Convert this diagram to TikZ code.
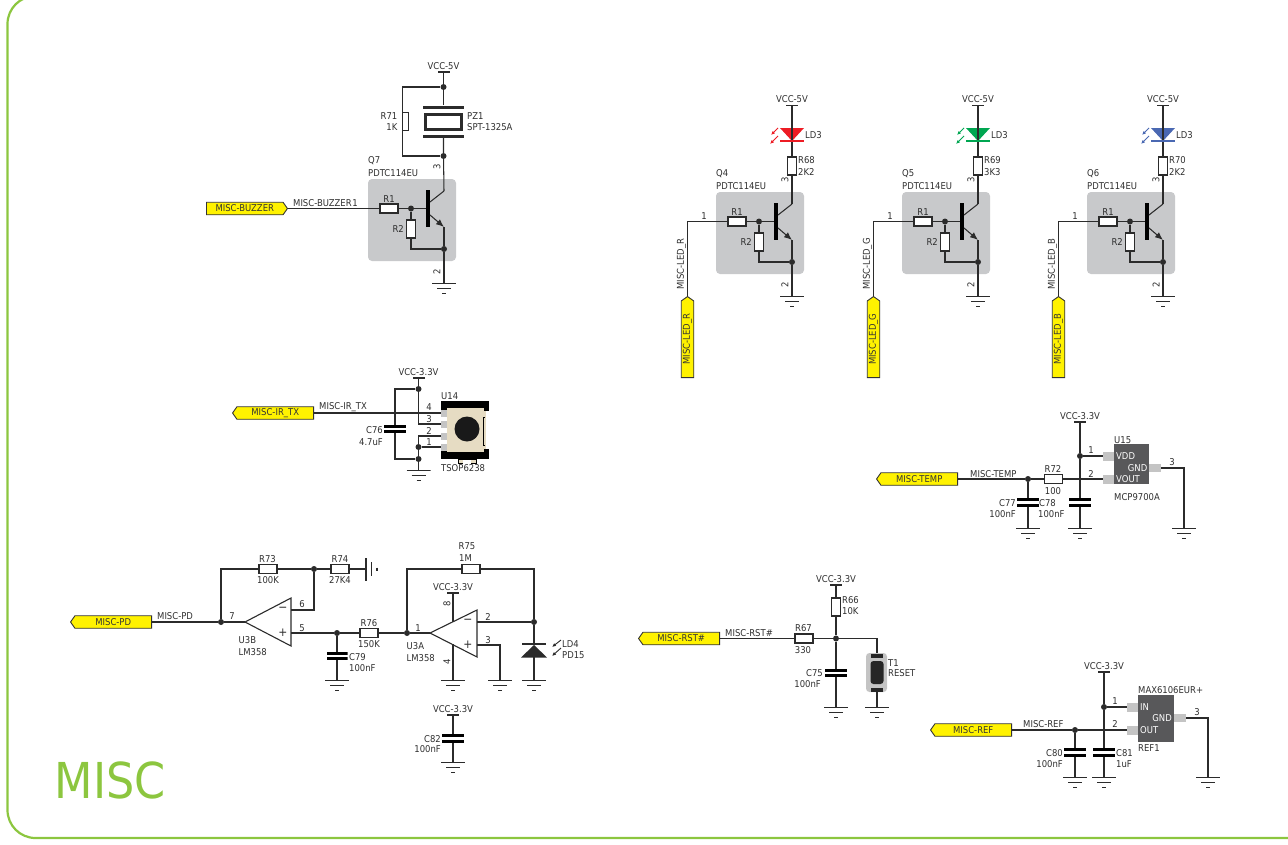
\documentclass[tikz,border=0pt]{standalone}
\usepackage{fontspec}
\setmainfont{DejaVu Sans}[FakeStretch=0.9]
\usetikzlibrary{arrows.meta,shapes.symbols}
\definecolor{wirec}{HTML}{2B2B2B}
\definecolor{textc}{HTML}{2E2E2E}
\definecolor{miscgreen}{HTML}{8CC63F}
\definecolor{boxgray}{HTML}{C8C9CB}
\definecolor{padgray}{HTML}{C4C4C4}
\definecolor{chipgray}{HTML}{58585A}
\definecolor{tagyellow}{HTML}{FFF200}
\definecolor{ledred}{HTML}{ED1C24}
\definecolor{ledgreen}{HTML}{00A651}
\definecolor{ledblue}{HTML}{4A68B2}
\definecolor{bodytan}{HTML}{E6DCC3}
\tikzset{
  wire/.style={draw=wirec,line width=1.05pt},
  lbl/.style={font=\fontsize{9.4}{9.4}\selectfont,text=textc,inner sep=0pt},
  lblw/.style={lbl,anchor=west},
  lble/.style={lbl,anchor=east},
  pinno/.style={lbl},
  pinrot/.style={lbl,rotate=90},
  dot/.style={circle,fill=wirec,minimum size=6pt,inner sep=0pt},
  resh/.style={rectangle,draw=wirec,fill=white,line width=1.05pt,minimum width=18pt,minimum height=9pt,inner sep=0pt},
  resv/.style={rectangle,draw=wirec,fill=white,line width=1.05pt,minimum width=9.5pt,minimum height=18pt,inner sep=0pt},
  capv/.style={rectangle,minimum width=22pt,minimum height=8.5pt,inner sep=0pt,fill=white,
    path picture={
      \fill[black] (path picture bounding box.north west) rectangle ([yshift=-2.9pt]path picture bounding box.north east);
      \fill[black] (path picture bounding box.south west) rectangle ([yshift=2.9pt]path picture bounding box.south east);
    }},
  gnd/.style={rectangle,anchor=north,minimum width=24pt,minimum height=14pt,inner sep=0pt,
    path picture={
      \draw[wirec,line width=1.2pt] ([yshift=-0.6pt]path picture bounding box.north west) -- ([yshift=-0.6pt]path picture bounding box.north east);
      \draw[wirec,line width=1.2pt] ([xshift=-7pt,yshift=-5.5pt]path picture bounding box.north) -- ([xshift=7pt,yshift=-5.5pt]path picture bounding box.north);
      \draw[wirec,line width=1.2pt] ([xshift=-2pt,yshift=-10.5pt]path picture bounding box.north) -- ([xshift=2pt,yshift=-10.5pt]path picture bounding box.north);
    }},
  pwr/.style={rectangle,fill=wirec,minimum width=12pt,minimum height=1.2pt,inner sep=0pt,
    label={[lbl,label distance=1.5pt]above:#1}},
  tagl/.style={signal,signal from=nowhere,signal to=west,signal pointer angle=110,draw=black!80,fill=tagyellow,line width=0.9pt,
    minimum width=81pt,minimum height=12.5pt,inner sep=0pt,font=\fontsize{9.4}{9.4}\selectfont,text=black!80,anchor=east},
  tagr/.style={tagl,signal to=east,anchor=west},
  tagu/.style={tagl,signal to=east,anchor=west,rotate=90},
  greybox/.style={fill=boxgray,rounded corners=4pt},
  pad/.style={fill=padgray},
}
\begin{document}
\begin{tikzpicture}[x=1pt,y=-1pt]
  \useasboundingbox (0,0) rectangle (1288,844);
  \draw[miscgreen,line width=2.2pt,rounded corners=28pt] (1340,-4) -- (7.5,-4) -- (7.5,838) -- (1340,838);
  \node[anchor=west,inner sep=0pt,text=miscgreen,font=\fontsize{49.5}{50}\selectfont] (title) at (54.5,780) {MISC};

  \foreach \q/\dx/\dy/\qname in {q7/0/0/Q7,q4/348/13/Q4,q5/534/13/Q5,q6/719/13/Q6}{
    \begin{scope}[shift={(\dx,\dy)}]
      \fill[greybox] (368,179) rectangle (456,261);
      \node[lblw] (\q-name) at (368,161) {\qname};
      \node[lblw] (\q-type) at (368,173) {PDTC114EU};
      \node[resh] (\q-r1) at (389,208.5) {};
      \node[lbl] (\q-r1t) at (389,199) {R1};
      \node[dot] (\q-j) at (411,208.5) {};
      \node[resv] (\q-r2) at (411,229) {};
      \node[lble] (\q-r2t) at (404,229) {R2};
      \node[rectangle,fill=black,minimum width=4pt,minimum height=37pt,inner sep=0pt] (\q-bar) at (428,208.5) {};
      \coordinate (\q-cb) at (430,202);
      \coordinate (\q-eb) at (430,215);
      \coordinate (\q-c) at (444,191);
      \coordinate (\q-e) at (444,227);
      \node[dot] (\q-g) at (444,249) {};
      \coordinate (\q-f) at (411,249);
      \node[gnd] (\q-gnd) at (444,283) {};
      \node[pinrot] (\q-p3) at (437,167) {3};
      \node[pinrot] (\q-p2) at (437,272) {2};
      \draw[wire] (\q-r1) -- (\q-j) -- (\q-bar.west);
      \draw[wire] (\q-j) -- (\q-r2);
      \draw[wire] (\q-r2) -- (\q-f) -- (\q-g);
      \draw[wire] (\q-cb) -- (\q-c);
      \draw[wire,-{Latex[length=8pt,width=6.5pt]}] (\q-eb) -- (\q-e);
      \draw[wire] (\q-e) -- (\q-g) -- (\q-gnd.north);
    \end{scope}
  }

  \node[pwr={VCC-5V}] (v7) at (443.5,72) {};
  \node[dot] (pz-t) at (443.5,87) {};
  \node[dot] (pz-b) at (443.5,156) {};
  \coordinate (r71-t) at (402.7,87);
  \coordinate (r71-b) at (402.7,156);
  \node[rectangle,draw=wirec,fill=white,line width=1.05pt,minimum width=6pt,minimum height=18pt,inner sep=0pt] (r71) at (405.5,121.5) {};
  \node[rectangle,fill=wirec,minimum width=41pt,minimum height=3pt,inner sep=0pt] (pz-a) at (443.5,107) {};
  \node[rectangle,draw=wirec,line width=3pt,minimum width=36pt,minimum height=15pt,inner sep=0pt] (pz) at (443.5,121.5) {};
  \node[rectangle,fill=wirec,minimum width=41pt,minimum height=3pt,inner sep=0pt] (pz-c) at (443.5,136) {};
  \draw[wire] (v7) -- (pz-t) -- (pz-a);
  \draw[wire] (pz-c) -- (pz-b) -- (q7-c);
  \draw[wire] (pz-t) -- (r71-t) -- (r71-b) -- (pz-b);
  \node[lble] (r71t) at (397.5,116) {R71};
  \node[lble] (r71v) at (397.5,127) {1K};
  \node[lblw] (pzt) at (467,116) {PZ1};
  \node[lblw] (pzv) at (467,127) {SPT-1325A};
  \node[tagr] (tagbuz) at (206,208.5) {MISC-BUZZER};
  \draw[wire] (tagbuz.east) -- (q7-r1);
  \node[lblw] (buzt) at (293,203) {MISC-BUZZER};
  \node[pinno] (buzp) at (355,203) {1};

  \foreach \q/\dx/\rr/\rv/\col/\lx in {q4/0/R68/2K2/ledred/Red,q5/186/R69/3K3/ledgreen/Green,q6/371/R70/2K2/ledblue/Blue}{
    \begin{scope}[shift={(\dx,0)}]
      \node[pwr={VCC-5V}] (\q-v) at (792,105.5) {};
      \fill[\col] (780,128) -- (804,128) -- (792,141) -- cycle;
      \node[rectangle,fill=\col,minimum width=24pt,minimum height=2.4pt,inner sep=0pt] (\q-led) at (792,141) {};
      \node[resv] (\q-r) at (792,166) {};
      \draw[wire] (\q-v) -- (\q-led);
      \draw[wire] (\q-led) -- (\q-r);
      \draw[wire] (\q-r) -- (\q-c);
      \coordinate (\q-a1) at (778,128);
      \coordinate (\q-a2) at (771,135);
      \coordinate (\q-a3) at (778,136);
      \coordinate (\q-a4) at (770,144);
      \draw[\col,line width=0.9pt,-{Latex[length=4pt,width=3.5pt]}] (\q-a1) -- (\q-a2);
      \draw[\col,line width=0.9pt,-{Latex[length=4pt,width=3.5pt]}] (\q-a3) -- (\q-a4);
      \node[lblw] (\q-ld) at (805,135.5) {LD3};
      \node[lblw] (\q-rt) at (798,160) {\rr};
      \node[lblw] (\q-rv) at (798,172) {\rv};
      \node[pinno] (\q-p1) at (704,216) {1};
    \end{scope}
  }
  \foreach \q/\tagx/\s in {q4/687.5/R,q5/873.5/G,q6/1058.5/B}{
    \node[tagu] (tag\q) at (\tagx,378) {MISC-LED\_\s};
    \coordinate (\q-k) at (\tagx,221.5);
    \node[lbl,rotate=90] (\q-wl) at (\tagx-6,264) {MISC-LED\_\s};
    \draw[wire] (tag\q.east) -- (\q-k) -- (\q-r1);
  }

  \node[tagl] (tagir) at (314,413) {MISC-IR\_TX};
  \node[pwr={VCC-3.3V}] (v14) at (418.5,378) {};
  \node[dot] (u14-t) at (418.5,389) {};
  \node[dot] (u14-b) at (418.5,459) {};
  \node[dot] (u14-m) at (418.5,447) {};
  \coordinate (c76-t) at (395,389);
  \coordinate (c76-b) at (395,459);
  \node[capv] (c76) at (395,429) {};
  \node[gnd] (u14-g) at (418.5,470) {};
  \coordinate (p3k) at (418.5,424);
  \coordinate (p2k) at (418.5,436);
  \fill[black] (441,401) rectangle (489,408);
  \fill[black] (441,452) rectangle (489,459);
  \fill[black] (441,408) rectangle (447,411);
  \fill[black] (441,449) rectangle (447,452);
  \fill[bodytan] (447,408) rectangle (486,452);
  \fill[black] (484,408) rectangle (489,411);
  \fill[black] (484,449) rectangle (489,452);
  \draw[black,line width=0.6pt,fill=bodytan] (458,459) rectangle (476,463);
  \fill[white] (463,459.5) rectangle (471,463.5);
  \draw[black,line width=0.6pt] (485,417) -- (483,417) -- (483,445) -- (485,445);
  \node[circle,fill=black!90,minimum size=25pt,inner sep=0pt] (u14-c) at (467,429) {};
  \foreach \y/\n in {413/4,424/3,436/2,447/1}{
    \node[rectangle,pad,minimum width=6pt,minimum height=7pt,inner sep=0pt] (u14-\n) at (444,\y) {};
  }
  \draw[wire] (tagir.east) -- (u14-4.west);
  \draw[wire] (v14) -- (u14-t) -- (p3k) -- (u14-3.west);
  \draw[wire] (u14-t) -- (c76-t) -- (c76) -- (c76-b) -- (u14-b) -- (u14-g.north);
  \draw[wire] (u14-2.west) -- (p2k) -- (u14-m) -- (u14-b);
  \draw[wire] (u14-m) -- (u14-1.west);
  \foreach \y/\n in {407/4,419/3,431/2,442/1}{
    \node[pinno] (u14p\n) at (429,\y) {\n};
  }
  \node[lblw] (irt) at (319,407) {MISC-IR\_TX};
  \node[lblw] (u14t) at (441,396) {U14};
  \node[lblw] (u14v) at (441,468) {TSOP6238};
  \node[lble] (c76t) at (383,430) {C76};
  \node[lble] (c76v) at (383,442) {4.7uF};

  \node[tagl] (tagpd) at (152,622) {MISC-PD};
  \node[dot] (pd-j) at (221,622) {};
  \coordinate (pd-t) at (221,569);
  \node[resh] (r73) at (268,569) {};
  \node[dot] (fb-j) at (314,569) {};
  \node[resh] (r74) at (340,569) {};
  \coordinate (fb-k) at (314,610);
  \coordinate (b-tip) at (245,622);
  \coordinate (b-tl) at (291,598);
  \coordinate (b-bl) at (291,646);
  \coordinate (b-m) at (291,610);
  \coordinate (b-p) at (291,633);
  \node[dot] (c79-j) at (337,633) {};
  \node[capv,minimum width=21pt] (c79) at (337,656) {};
  \node[gnd] (c79-g) at (337,680) {};
  \node[resh] (r76) at (369,633) {};
  \coordinate (ag) at (366,569);
  \draw[wirec,line width=1.1pt] (b-tip) -- (b-tl) -- (b-bl) -- cycle;
  \draw[wire] (tagpd.east) -- (pd-j) -- (b-tip);
  \draw[wire] (pd-j) -- (pd-t) -- (r73) -- (fb-j) -- (r74) -- (ag);
  \draw[wire] (fb-j) -- (fb-k) -- (b-m);
  \draw[wire] (b-p) -- (c79-j) -- (r76);
  \draw[wire] (c79-j) -- (c79) -- (c79-g.north);
  \draw[wirec,line width=1.2pt] (366,558) -- (366,581);
  \draw[wirec,line width=1.2pt] (371.5,562) -- (371.5,576);
  \draw[wirec,line width=1.2pt] (377,567.5) -- (377,571);
  \node[lblw] (pdt) at (157,616) {MISC-PD};
  \node[lbl] (r73t) at (267.5,559.5) {R73};
  \node[lbl] (r73v) at (268,580) {100K};
  \node[lbl] (r74t) at (340,559.5) {R74};
  \node[lbl] (r74v) at (340,580) {27K4};
  \node[pinno] (p7) at (232,616.5) {7};
  \node[pinno] (p6) at (302,604) {6};
  \node[pinno] (p5) at (302,628) {5};
  \node[lblw] (u3bt) at (238.5,640) {U3B};
  \node[lblw] (u3bv) at (238.5,652) {LM358};
  \node[lbl,font=\fontsize{12}{12}\selectfont] (b-minus) at (283,609.5) {\textminus};
  \node[lbl,font=\fontsize{12}{12}\selectfont] (b-plus) at (283,633) {+};
  \node[lble] (c79t) at (366,657) {C79};
  \node[lblw] (c79v) at (349,668) {100nF};
  \node[lbl] (r76t) at (369,623.5) {R76};
  \node[lbl] (r76v) at (369,644) {150K};

  \node[dot] (a-j) at (407,633) {};
  \coordinate (a-t) at (407,569);
  \node[resh] (r75) at (471,569) {};
  \coordinate (a-r) at (534,569);
  \node[dot] (d-j) at (534,622) {};
  \coordinate (a-tip) at (430,633);
  \coordinate (a-tl) at (477,610);
  \coordinate (a-bl) at (477,657);
  \coordinate (a-m) at (477,622);
  \coordinate (a-p) at (477,645);
  \coordinate (a-pk) at (500,645);
  \coordinate (a-vt) at (453,621.8);
  \coordinate (a-vb) at (453,644.2);
  \node[pwr={VCC-3.3V}] (v3a) at (453,593) {};
  \node[gnd] (a-g4) at (453,680) {};
  \node[gnd] (a-g3) at (500,680) {};
  \node[gnd] (a-gd) at (534,680) {};
  \node[rectangle,fill=wirec,minimum width=24pt,minimum height=2.6pt,inner sep=0pt] (led4) at (534,644) {};
  \coordinate (led4-b) at (534,657);
  \fill[wirec] (534,645) -- (547,657.5) -- (521,657.5) -- cycle;
  \draw[wirec,line width=1.1pt] (a-tip) -- (a-tl) -- (a-bl) -- cycle;
  \draw[wire] (r76) -- (a-j) -- (a-tip);
  \draw[wire] (a-j) -- (a-t) -- (r75) -- (a-r) -- (d-j) -- (led4);
  \draw[wire] (a-m) -- (d-j);
  \draw[wire] (led4-b) -- (a-gd.north);
  \draw[wire] (a-p) -- (a-pk) -- (a-g3.north);
  \draw[wire] (v3a) -- (a-vt);
  \draw[wire] (a-vb) -- (a-g4.north);
  \coordinate (la1) at (561,640);
  \coordinate (la2) at (552,647);
  \coordinate (la3) at (561,648);
  \coordinate (la4) at (552,656);
  \draw[wirec,line width=0.9pt,-{Latex[length=4pt,width=3.5pt]}] (la1) -- (la2);
  \draw[wirec,line width=0.9pt,-{Latex[length=4pt,width=3.5pt]}] (la3) -- (la4);
  \node[lbl] (r75t) at (467,546.5) {R75};
  \node[lbl] (r75v) at (465.5,558.5) {1M};
  \node[pinno] (p1a) at (418,628) {1};
  \node[pinno] (p2a) at (488,617) {2};
  \node[pinno] (p3a) at (488,640) {3};
  \node[pinrot] (p8a) at (447,604) {8};
  \node[pinrot] (p4a) at (447,662) {4};
  \node[lblw] (u3at) at (406.5,646) {U3A};
  \node[lblw] (u3av) at (406.5,658) {LM358};
  \node[lbl,font=\fontsize{12}{12}\selectfont] (a-minus) at (468,621.5) {\textminus};
  \node[lbl,font=\fontsize{12}{12}\selectfont] (a-plus) at (468,645) {+};
  \node[lblw] (ld4t) at (562,644) {LD4};
  \node[lblw] (ld4v) at (562,655) {PD15};

  \node[pwr={VCC-3.3V}] (v82) at (453,715) {};
  \node[capv] (c82) at (453,738.5) {};
  \node[gnd] (c82-g) at (453,762) {};
  \draw[wire] (v82) -- (c82) -- (c82-g.north);
  \node[lble] (c82t) at (441,739) {C82};
  \node[lble] (c82v) at (441,749.5) {100nF};

  \node[tagl] (tagrst) at (720,638.5) {MISC-RST\#};
  \node[resh] (r67) at (804,638.5) {};
  \node[dot] (rst-j) at (836,638.5) {};
  \coordinate (rst-k) at (877,638.5);
  \node[pwr={VCC-3.3V}] (v66) at (836,585) {};
  \node[resv] (r66) at (836,607) {};
  \node[capv] (c75) at (836,673) {};
  \node[gnd] (c75-g) at (836,707) {};
  \node[rectangle,fill=padgray,rounded corners=3.5pt,minimum width=21pt,minimum height=39pt,inner sep=0pt] (t1) at (876.5,672.5) {};
  \node[rectangle,fill=black!85,minimum width=12pt,minimum height=4pt,inner sep=0pt] (t1-a) at (877,655.5) {};
  \node[rectangle,fill=black!85,rounded corners=3pt,minimum width=13pt,minimum height=23pt,inner sep=0pt] (t1-m) at (877,672.5) {};
  \node[rectangle,fill=black!85,minimum width=12pt,minimum height=4pt,inner sep=0pt] (t1-c) at (877,689.5) {};
  \node[gnd] (t1-g) at (877,707) {};
  \draw[wire] (tagrst.east) -- (r67) -- (rst-j) -- (rst-k) -- (t1-a.north);
  \draw[wire] (v66) -- (r66) -- (rst-j) -- (c75) -- (c75-g.north);
  \draw[wire] (t1-c.south) -- (t1-g.north);
  \node[lblw] (rstt) at (725,633) {MISC-RST\#};
  \node[lbl] (r67t) at (803.5,628) {R67};
  \node[lbl] (r67v) at (803,650.5) {330};
  \node[lblw] (r66t) at (842,600.5) {R66};
  \node[lblw] (r66v) at (842,611.5) {10K};
  \node[lble] (c75t) at (823,673.5) {C75};
  \node[lble] (c75v) at (821,684.5) {100nF};
  \node[lblw] (t1t) at (888,663) {T1};
  \node[lblw] (t1v) at (888,673.5) {RESET};

  \node[tagl] (tagtemp) at (958,479) {MISC-TEMP};
  \node[dot] (temp-j) at (1028,479) {};
  \node[resh] (r72) at (1053.5,479) {};
  \node[capv] (c77) at (1028,502.5) {};
  \node[gnd] (c77-g) at (1028,528) {};
  \node[pwr={VCC-3.3V}] (v15) at (1080,422) {};
  \node[dot] (v15-j) at (1080,456) {};
  \node[capv] (c78) at (1080,502.5) {};
  \node[gnd] (c78-g) at (1080,528) {};
  \node[rectangle,fill=chipgray,minimum width=35pt,minimum height=40pt,inner sep=0pt] (u15) at (1131.5,464) {};
  \node[rectangle,pad,minimum width=11pt,minimum height=9pt,inner sep=0pt] (u15-1) at (1108.5,456) {};
  \node[rectangle,pad,minimum width=11pt,minimum height=9pt,inner sep=0pt] (u15-2) at (1108.5,479) {};
  \node[rectangle,pad,minimum width=12pt,minimum height=8pt,inner sep=0pt] (u15-3) at (1155,468) {};
  \coordinate (u15-k) at (1184,468);
  \node[gnd] (u15-g) at (1184,528) {};
  \draw[wire] (tagtemp.east) -- (temp-j) -- (r72) -- (u15-2.west);
  \draw[wire] (temp-j) -- (c77) -- (c77-g.north);
  \draw[wire] (v15) -- (v15-j) -- (c78) -- (c78-g.north);
  \draw[wire] (v15-j) -- (u15-1.west);
  \draw[wire] (u15-3.east) -- (u15-k) -- (u15-g.north);
  \node[lblw,text=white] (u15a) at (1116,456.5) {VDD};
  \node[lble,text=white] (u15b) at (1147.5,468) {GND};
  \node[lblw,text=white] (u15c) at (1116,479.5) {VOUT};
  \node[lblw] (u15t) at (1114,440) {U15};
  \node[lblw] (u15v) at (1114,497) {MCP9700A};
  \node[pinno] (t1p) at (1091,450) {1};
  \node[pinno] (t2p) at (1091,474) {2};
  \node[pinno] (t3p) at (1172,462) {3};
  \node[lblw] (tempt) at (970,474) {MISC-TEMP};
  \node[lbl] (r72t) at (1053,469.5) {R72};
  \node[lbl] (r72v) at (1053,491) {100};
  \node[lble] (c77t) at (1016,503.5) {C77};
  \node[lble] (c77v) at (1016,514) {100nF};
  \node[lblw] (c78t) at (1039,503.5) {C78};
  \node[lblw] (c78v) at (1038,514) {100nF};

  \node[tagl] (tagref) at (1012,730) {MISC-REF};
  \node[dot] (ref-j) at (1075,730) {};
  \node[capv] (c80) at (1075,752.5) {};
  \node[gnd] (c80-g) at (1075,777) {};
  \node[pwr={VCC-3.3V}] (vref) at (1104,672) {};
  \node[dot] (vref-j) at (1104,707) {};
  \node[capv] (c81) at (1104,752.5) {};
  \node[gnd] (c81-g) at (1104,777) {};
  \node[rectangle,fill=chipgray,minimum width=36pt,minimum height=47pt,inner sep=0pt] (ref1) at (1156,718.5) {};
  \node[rectangle,pad,minimum width=11pt,minimum height=9pt,inner sep=0pt] (ref-1) at (1132.5,707) {};
  \node[rectangle,pad,minimum width=11pt,minimum height=9pt,inner sep=0pt] (ref-2) at (1132.5,730) {};
  \node[rectangle,pad,minimum width=12pt,minimum height=8pt,inner sep=0pt] (ref-3) at (1180,718) {};
  \coordinate (ref-k) at (1208,718);
  \node[gnd] (ref-g) at (1208,777) {};
  \draw[wire] (tagref.east) -- (ref-j) -- (ref-2.west);
  \draw[wire] (ref-j) -- (c80) -- (c80-g.north);
  \draw[wire] (vref) -- (vref-j) -- (c81) -- (c81-g.north);
  \draw[wire] (vref-j) -- (ref-1.west);
  \draw[wire] (ref-3.east) -- (ref-k) -- (ref-g.north);
  \node[lblw,text=white] (refa) at (1140,707.5) {IN};
  \node[lble,text=white] (refb) at (1172,718.5) {GND};
  \node[lblw,text=white] (refc) at (1140,730.5) {OUT};
  \node[lblw] (reft) at (1138,690) {MAX6106EUR+};
  \node[lblw] (refv) at (1138,748) {REF1};
  \node[pinno] (r1p) at (1115,701) {1};
  \node[pinno] (r2p) at (1115,724) {2};
  \node[pinno] (r3p) at (1197,712) {3};
  \node[lblw] (reft2) at (1023,724) {MISC-REF};
  \node[lble] (c80t) at (1063,753.5) {C80};
  \node[lble] (c80v) at (1063,764) {100nF};
  \node[lblw] (c81t) at (1116,753.5) {C81};
  \node[lblw] (c81v) at (1116,764) {1uF};
\end{tikzpicture}
\end{document}
